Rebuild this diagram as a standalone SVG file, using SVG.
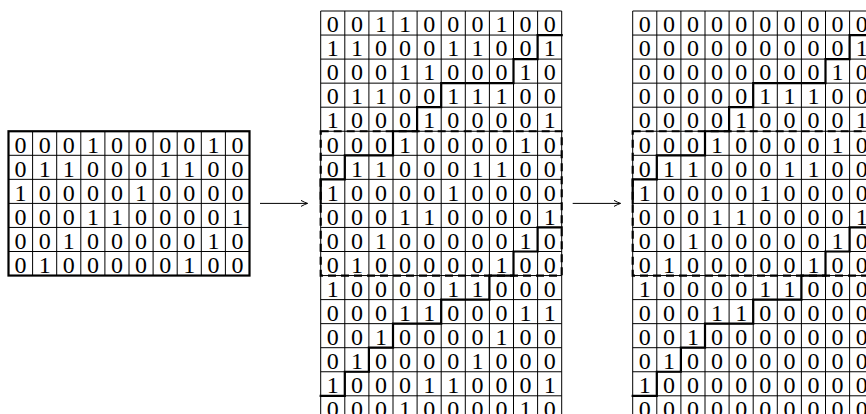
<svg xmlns="http://www.w3.org/2000/svg" width="866" height="414" viewBox="0 0 866 414">
<style>
text{font-family:"Liberation Serif","Times New Roman",serif;font-size:24px;text-anchor:middle;fill:#000}
.thin{fill:none;stroke:#000;stroke-width:1}
.thick{fill:none;stroke:#000;stroke-width:2.2;stroke-linecap:square}
.dash{fill:none;stroke:#000;stroke-width:2.2;stroke-dasharray:8 5}
.arrow{fill:none;stroke:#000;stroke-width:1}
</style>
<defs>
<marker id="ah" markerUnits="userSpaceOnUse" viewBox="-8 -5 10 10" refX="0" refY="0" markerWidth="10" markerHeight="10" orient="auto">
<path d="M-6.5,-3 Q-2.5,-0.8 0,0 Q-2.5,0.8 -6.5,3" fill="none" stroke="#000" stroke-width="1"/>
</marker>
<path id="lines17" class="thin" d="M320.7 11V420M344.8 11V420M368.9 11V420M393 11V420M417.1 11V420M441.2 11V420M465.3 11V420M489.4 11V420M513.5 11V420M537.6 11V420M561.7 11V420M320.7 11H561.7M320.7 35.05H561.7M320.7 59.1H561.7M320.7 83.15H561.7M320.7 107.2H561.7M320.7 131.25H561.7M320.7 155.3H561.7M320.7 179.35H561.7M320.7 203.4H561.7M320.7 227.45H561.7M320.7 251.5H561.7M320.7 275.55H561.7M320.7 299.6H561.7M320.7 323.65H561.7M320.7 347.7H561.7M320.7 371.75H561.7M320.7 395.8H561.7"/>
<path id="dashbox" class="dash" d="M320.7 131.25H561.7V275.55H320.7Z"/>
<path id="stairs" class="thick" d="M561.7 35.05H537.6V59.1H513.5V83.15H441.2V107.2H417.1V131.25H393V155.3H344.8V179.35H320.7V203.4M561.7 227.45H537.6V251.5H513.5V275.55H489.4V299.6H441.2V323.65H393V347.7H368.9V371.75H344.8V395.8H320.7"/>
</defs>

<g id="connectors">
<path class="arrow" d="M260 203.4H307.5" marker-end="url(#ah)"/>
<path class="arrow" d="M572.7 203.4H620.5" marker-end="url(#ah)"/>
</g>

<g id="grid-input">
<path class="thin" d="M32.6 131.25V275.55M56.7 131.25V275.55M80.8 131.25V275.55M104.9 131.25V275.55M129 131.25V275.55M153.1 131.25V275.55M177.2 131.25V275.55M201.3 131.25V275.55M225.4 131.25V275.55M8.5 155.3H249.5M8.5 179.35H249.5M8.5 203.4H249.5M8.5 227.45H249.5M8.5 251.5H249.5"/>
<rect class="thick" x="8.5" y="131.25" width="241" height="144.3"/>
<g transform="translate(-312.2,152.5)"><text x="332.8">0</text><text x="356.9">0</text><text x="381">0</text><text x="405.1">1</text><text x="429.2">0</text><text x="453.3">0</text><text x="477.4">0</text><text x="501.5">0</text><text x="525.6">1</text><text x="549.7">0</text></g>
<g transform="translate(-312.2,176.5)"><text x="332.8">0</text><text x="356.9">1</text><text x="381">1</text><text x="405.1">0</text><text x="429.2">0</text><text x="453.3">0</text><text x="477.4">1</text><text x="501.5">1</text><text x="525.6">0</text><text x="549.7">0</text></g>
<g transform="translate(-312.2,200.6)"><text x="332.8">1</text><text x="356.9">0</text><text x="381">0</text><text x="405.1">0</text><text x="429.2">0</text><text x="453.3">1</text><text x="477.4">0</text><text x="501.5">0</text><text x="525.6">0</text><text x="549.7">0</text></g>
<g transform="translate(-312.2,224.6)"><text x="332.8">0</text><text x="356.9">0</text><text x="381">0</text><text x="405.1">1</text><text x="429.2">1</text><text x="453.3">0</text><text x="477.4">0</text><text x="501.5">0</text><text x="525.6">0</text><text x="549.7">1</text></g>
<g transform="translate(-312.2,248.7)"><text x="332.8">0</text><text x="356.9">0</text><text x="381">1</text><text x="405.1">0</text><text x="429.2">0</text><text x="453.3">0</text><text x="477.4">0</text><text x="501.5">0</text><text x="525.6">1</text><text x="549.7">0</text></g>
<g transform="translate(-312.2,272.7)"><text x="332.8">0</text><text x="356.9">1</text><text x="381">0</text><text x="405.1">0</text><text x="429.2">0</text><text x="453.3">0</text><text x="477.4">0</text><text x="501.5">1</text><text x="525.6">0</text><text x="549.7">0</text></g>
</g>

<g id="grid-extended">
<use href="#lines17"/>
<use href="#dashbox"/>
<use href="#stairs"/>
<g transform="translate(0,32.2)"><text x="332.8">0</text><text x="356.9">0</text><text x="381">1</text><text x="405.1">1</text><text x="429.2">0</text><text x="453.3">0</text><text x="477.4">0</text><text x="501.5">1</text><text x="525.6">0</text><text x="549.7">0</text></g>
<g transform="translate(0,56.3)"><text x="332.8">1</text><text x="356.9">1</text><text x="381">0</text><text x="405.1">0</text><text x="429.2">0</text><text x="453.3">1</text><text x="477.4">1</text><text x="501.5">0</text><text x="525.6">0</text><text x="549.7">1</text></g>
<g transform="translate(0,80.3)"><text x="332.8">0</text><text x="356.9">0</text><text x="381">0</text><text x="405.1">1</text><text x="429.2">1</text><text x="453.3">0</text><text x="477.4">0</text><text x="501.5">0</text><text x="525.6">1</text><text x="549.7">0</text></g>
<g transform="translate(0,104.4)"><text x="332.8">0</text><text x="356.9">1</text><text x="381">1</text><text x="405.1">0</text><text x="429.2">0</text><text x="453.3">1</text><text x="477.4">1</text><text x="501.5">1</text><text x="525.6">0</text><text x="549.7">0</text></g>
<g transform="translate(0,128.4)"><text x="332.8">1</text><text x="356.9">0</text><text x="381">0</text><text x="405.1">0</text><text x="429.2">1</text><text x="453.3">0</text><text x="477.4">0</text><text x="501.5">0</text><text x="525.6">0</text><text x="549.7">1</text></g>
<g transform="translate(0,152.5)"><text x="332.8">0</text><text x="356.9">0</text><text x="381">0</text><text x="405.1">1</text><text x="429.2">0</text><text x="453.3">0</text><text x="477.4">0</text><text x="501.5">0</text><text x="525.6">1</text><text x="549.7">0</text></g>
<g transform="translate(0,176.5)"><text x="332.8">0</text><text x="356.9">1</text><text x="381">1</text><text x="405.1">0</text><text x="429.2">0</text><text x="453.3">0</text><text x="477.4">1</text><text x="501.5">1</text><text x="525.6">0</text><text x="549.7">0</text></g>
<g transform="translate(0,200.6)"><text x="332.8">1</text><text x="356.9">0</text><text x="381">0</text><text x="405.1">0</text><text x="429.2">0</text><text x="453.3">1</text><text x="477.4">0</text><text x="501.5">0</text><text x="525.6">0</text><text x="549.7">0</text></g>
<g transform="translate(0,224.6)"><text x="332.8">0</text><text x="356.9">0</text><text x="381">0</text><text x="405.1">1</text><text x="429.2">1</text><text x="453.3">0</text><text x="477.4">0</text><text x="501.5">0</text><text x="525.6">0</text><text x="549.7">1</text></g>
<g transform="translate(0,248.7)"><text x="332.8">0</text><text x="356.9">0</text><text x="381">1</text><text x="405.1">0</text><text x="429.2">0</text><text x="453.3">0</text><text x="477.4">0</text><text x="501.5">0</text><text x="525.6">1</text><text x="549.7">0</text></g>
<g transform="translate(0,272.7)"><text x="332.8">0</text><text x="356.9">1</text><text x="381">0</text><text x="405.1">0</text><text x="429.2">0</text><text x="453.3">0</text><text x="477.4">0</text><text x="501.5">1</text><text x="525.6">0</text><text x="549.7">0</text></g>
<g transform="translate(0,296.8)"><text x="332.8">1</text><text x="356.9">0</text><text x="381">0</text><text x="405.1">0</text><text x="429.2">0</text><text x="453.3">1</text><text x="477.4">1</text><text x="501.5">0</text><text x="525.6">0</text><text x="549.7">0</text></g>
<g transform="translate(0,320.8)"><text x="332.8">0</text><text x="356.9">0</text><text x="381">0</text><text x="405.1">1</text><text x="429.2">1</text><text x="453.3">0</text><text x="477.4">0</text><text x="501.5">0</text><text x="525.6">1</text><text x="549.7">1</text></g>
<g transform="translate(0,344.9)"><text x="332.8">0</text><text x="356.9">0</text><text x="381">1</text><text x="405.1">0</text><text x="429.2">0</text><text x="453.3">0</text><text x="477.4">0</text><text x="501.5">1</text><text x="525.6">0</text><text x="549.7">0</text></g>
<g transform="translate(0,368.9)"><text x="332.8">0</text><text x="356.9">1</text><text x="381">0</text><text x="405.1">0</text><text x="429.2">0</text><text x="453.3">0</text><text x="477.4">1</text><text x="501.5">0</text><text x="525.6">0</text><text x="549.7">0</text></g>
<g transform="translate(0,393)"><text x="332.8">1</text><text x="356.9">0</text><text x="381">0</text><text x="405.1">0</text><text x="429.2">1</text><text x="453.3">1</text><text x="477.4">0</text><text x="501.5">0</text><text x="525.6">0</text><text x="549.7">1</text></g>
<g transform="translate(0,417)"><text x="332.8">0</text><text x="356.9">0</text><text x="381">0</text><text x="405.1">1</text><text x="429.2">0</text><text x="453.3">0</text><text x="477.4">0</text><text x="501.5">0</text><text x="525.6">1</text><text x="549.7">0</text></g>
</g>

<g id="grid-masked">
<use href="#lines17" x="312"/>
<use href="#dashbox" x="312"/>
<use href="#stairs" x="312"/>
<g transform="translate(312,32.2)"><text x="332.8">0</text><text x="356.9">0</text><text x="381">0</text><text x="405.1">0</text><text x="429.2">0</text><text x="453.3">0</text><text x="477.4">0</text><text x="501.5">0</text><text x="525.6">0</text><text x="549.7">0</text></g>
<g transform="translate(312,56.3)"><text x="332.8">0</text><text x="356.9">0</text><text x="381">0</text><text x="405.1">0</text><text x="429.2">0</text><text x="453.3">0</text><text x="477.4">0</text><text x="501.5">0</text><text x="525.6">0</text><text x="549.7">1</text></g>
<g transform="translate(312,80.3)"><text x="332.8">0</text><text x="356.9">0</text><text x="381">0</text><text x="405.1">0</text><text x="429.2">0</text><text x="453.3">0</text><text x="477.4">0</text><text x="501.5">0</text><text x="525.6">1</text><text x="549.7">0</text></g>
<g transform="translate(312,104.4)"><text x="332.8">0</text><text x="356.9">0</text><text x="381">0</text><text x="405.1">0</text><text x="429.2">0</text><text x="453.3">1</text><text x="477.4">1</text><text x="501.5">1</text><text x="525.6">0</text><text x="549.7">0</text></g>
<g transform="translate(312,128.4)"><text x="332.8">0</text><text x="356.9">0</text><text x="381">0</text><text x="405.1">0</text><text x="429.2">1</text><text x="453.3">0</text><text x="477.4">0</text><text x="501.5">0</text><text x="525.6">0</text><text x="549.7">1</text></g>
<g transform="translate(312,152.5)"><text x="332.8">0</text><text x="356.9">0</text><text x="381">0</text><text x="405.1">1</text><text x="429.2">0</text><text x="453.3">0</text><text x="477.4">0</text><text x="501.5">0</text><text x="525.6">1</text><text x="549.7">0</text></g>
<g transform="translate(312,176.5)"><text x="332.8">0</text><text x="356.9">1</text><text x="381">1</text><text x="405.1">0</text><text x="429.2">0</text><text x="453.3">0</text><text x="477.4">1</text><text x="501.5">1</text><text x="525.6">0</text><text x="549.7">0</text></g>
<g transform="translate(312,200.6)"><text x="332.8">1</text><text x="356.9">0</text><text x="381">0</text><text x="405.1">0</text><text x="429.2">0</text><text x="453.3">1</text><text x="477.4">0</text><text x="501.5">0</text><text x="525.6">0</text><text x="549.7">0</text></g>
<g transform="translate(312,224.6)"><text x="332.8">0</text><text x="356.9">0</text><text x="381">0</text><text x="405.1">1</text><text x="429.2">1</text><text x="453.3">0</text><text x="477.4">0</text><text x="501.5">0</text><text x="525.6">0</text><text x="549.7">1</text></g>
<g transform="translate(312,248.7)"><text x="332.8">0</text><text x="356.9">0</text><text x="381">1</text><text x="405.1">0</text><text x="429.2">0</text><text x="453.3">0</text><text x="477.4">0</text><text x="501.5">0</text><text x="525.6">1</text><text x="549.7">0</text></g>
<g transform="translate(312,272.7)"><text x="332.8">0</text><text x="356.9">1</text><text x="381">0</text><text x="405.1">0</text><text x="429.2">0</text><text x="453.3">0</text><text x="477.4">0</text><text x="501.5">1</text><text x="525.6">0</text><text x="549.7">0</text></g>
<g transform="translate(312,296.8)"><text x="332.8">1</text><text x="356.9">0</text><text x="381">0</text><text x="405.1">0</text><text x="429.2">0</text><text x="453.3">1</text><text x="477.4">1</text><text x="501.5">0</text><text x="525.6">0</text><text x="549.7">0</text></g>
<g transform="translate(312,320.8)"><text x="332.8">0</text><text x="356.9">0</text><text x="381">0</text><text x="405.1">1</text><text x="429.2">1</text><text x="453.3">0</text><text x="477.4">0</text><text x="501.5">0</text><text x="525.6">0</text><text x="549.7">0</text></g>
<g transform="translate(312,344.9)"><text x="332.8">0</text><text x="356.9">0</text><text x="381">1</text><text x="405.1">0</text><text x="429.2">0</text><text x="453.3">0</text><text x="477.4">0</text><text x="501.5">0</text><text x="525.6">0</text><text x="549.7">0</text></g>
<g transform="translate(312,368.9)"><text x="332.8">0</text><text x="356.9">1</text><text x="381">0</text><text x="405.1">0</text><text x="429.2">0</text><text x="453.3">0</text><text x="477.4">0</text><text x="501.5">0</text><text x="525.6">0</text><text x="549.7">0</text></g>
<g transform="translate(312,393)"><text x="332.8">1</text><text x="356.9">0</text><text x="381">0</text><text x="405.1">0</text><text x="429.2">0</text><text x="453.3">0</text><text x="477.4">0</text><text x="501.5">0</text><text x="525.6">0</text><text x="549.7">0</text></g>
<g transform="translate(312,417)"><text x="332.8">0</text><text x="356.9">0</text><text x="381">0</text><text x="405.1">0</text><text x="429.2">0</text><text x="453.3">0</text><text x="477.4">0</text><text x="501.5">0</text><text x="525.6">0</text><text x="549.7">0</text></g>
</g>
</svg>
